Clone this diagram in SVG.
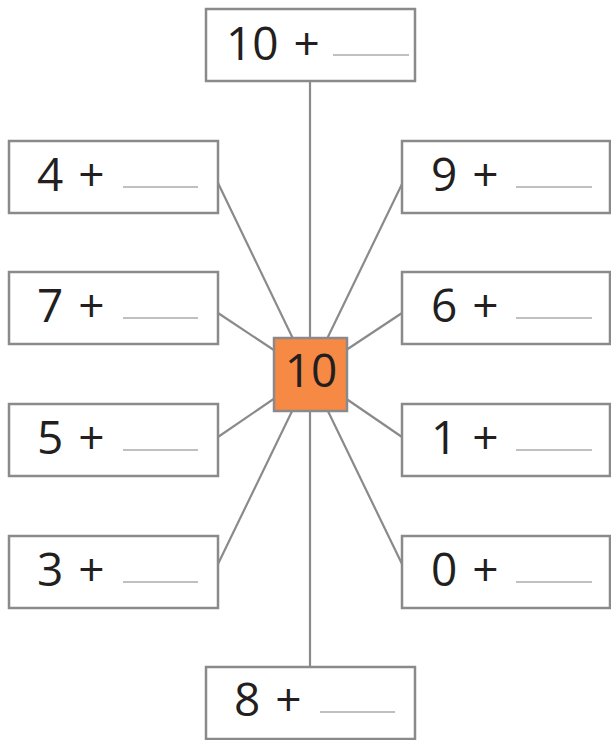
<svg xmlns="http://www.w3.org/2000/svg" width="611" height="740" viewBox="0 0 611 740">
<style>
.box{fill:#fff;stroke:#8a8a8c;stroke-width:2.5}
.ctr{fill:#F68A45;stroke:#8a8a8c;stroke-width:2.5}
.con{stroke:#8a8a8c;stroke-width:2.2;fill:none}
.t{font-family:"Open Sans","DejaVu Sans",sans-serif;font-size:46px;fill:#231f20;word-spacing:3px}
.u{stroke:#ababab;stroke-width:1.6}
</style>
<rect width="611" height="740" fill="#fff"/>
<g id="connectors">
<line class="con" x1="310" y1="82" x2="310" y2="374"/>
<line class="con" x1="310" y1="374" x2="310" y2="666"/>
<line class="con" x1="218" y1="183" x2="310" y2="374"/>
<line class="con" x1="218" y1="313" x2="310" y2="374"/>
<line class="con" x1="218" y1="437" x2="310" y2="374"/>
<line class="con" x1="218" y1="564" x2="310" y2="374"/>
<line class="con" x1="402" y1="184" x2="310" y2="374"/>
<line class="con" x1="402" y1="313" x2="310" y2="374"/>
<line class="con" x1="402" y1="437" x2="310" y2="374"/>
<line class="con" x1="402" y1="564" x2="310" y2="374"/>
</g>
<g id="center">
<rect class="ctr" x="274" y="338" width="73" height="73"/>
<text class="t" x="311" y="387" text-anchor="middle">10</text>
</g>
<g id="top">
<rect class="box" x="206" y="9" width="209" height="72"/>
<text class="t" x="226" y="60">10 +</text>
<line class="u" x1="333" y1="55" x2="409" y2="55"/>
</g>
<g id="bottom">
<rect class="box" x="206" y="667" width="209" height="72"/>
<text class="t" x="234" y="716">8 +</text>
<line class="u" x1="320" y1="712" x2="395" y2="712"/>
</g>
<g id="l4">
<rect class="box" x="9" y="141" width="209" height="72"/>
<text class="t" x="37" y="191">4 +</text>
<line class="u" x1="123" y1="187" x2="198" y2="187"/>
</g>
<g id="l7">
<rect class="box" x="9" y="272" width="209" height="72"/>
<text class="t" x="37" y="322">7 +</text>
<line class="u" x1="123" y1="318" x2="198" y2="318"/>
</g>
<g id="l5">
<rect class="box" x="9" y="404" width="209" height="72"/>
<text class="t" x="37" y="454">5 +</text>
<line class="u" x1="123" y1="450" x2="198" y2="450"/>
</g>
<g id="l3">
<rect class="box" x="9" y="536" width="209" height="72"/>
<text class="t" x="37" y="586">3 +</text>
<line class="u" x1="123" y1="582" x2="198" y2="582"/>
</g>
<g id="r9">
<rect class="box" x="402" y="141" width="208" height="72"/>
<text class="t" x="431" y="191">9 +</text>
<line class="u" x1="516" y1="187" x2="592" y2="187"/>
</g>
<g id="r6">
<rect class="box" x="402" y="272" width="208" height="72"/>
<text class="t" x="431" y="322">6 +</text>
<line class="u" x1="516" y1="318" x2="592" y2="318"/>
</g>
<g id="r1">
<rect class="box" x="402" y="404" width="208" height="72"/>
<text class="t" x="431" y="454">1 +</text>
<line class="u" x1="516" y1="450" x2="592" y2="450"/>
</g>
<g id="r0">
<rect class="box" x="402" y="536" width="208" height="72"/>
<text class="t" x="431" y="586">0 +</text>
<line class="u" x1="516" y1="582" x2="592" y2="582"/>
</g>
</svg>
